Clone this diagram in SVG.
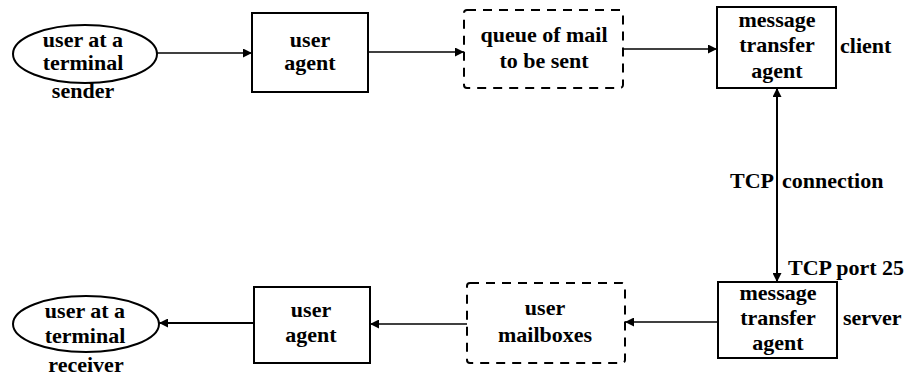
<svg xmlns="http://www.w3.org/2000/svg" width="909" height="376" viewBox="0 0 909 376">
<style>
text{font-family:'Liberation Serif','Times New Roman',Times,serif;font-size:22px;font-weight:700;fill:#000;text-anchor:middle}
text.l{text-anchor:start}
.box{fill:#fff;stroke:#000;stroke-width:2}
.dash{fill:#fff;stroke:#000;stroke-width:2;stroke-dasharray:9 7}
.c{fill:none;stroke:#000;stroke-width:1.6}
</style>
<defs>
<marker id="ah" viewBox="0 0 10 10" refX="10" refY="5" markerWidth="10" markerHeight="9" markerUnits="userSpaceOnUse" orient="auto-start-reverse">
<path d="M0,0 L10,5 L0,10 Z" fill="#000"/>
</marker>
</defs>
<rect width="909" height="376" fill="#fff"/>
<g id="connectors">
<line class="c" x1="157" y1="53" x2="252" y2="53" marker-end="url(#ah)"/>
<line class="c" x1="368" y1="52" x2="464" y2="52" marker-end="url(#ah)"/>
<line class="c" x1="623" y1="49" x2="717" y2="49" marker-end="url(#ah)"/>
<line class="c" x1="777" y1="88" x2="777" y2="282" style="stroke-width:2" marker-start="url(#ah)" marker-end="url(#ah)"/>
<line class="c" x1="718" y1="322" x2="625" y2="322" marker-end="url(#ah)"/>
<line class="c" x1="467" y1="324" x2="370" y2="324" marker-end="url(#ah)"/>
<line class="c" x1="254" y1="323" x2="159" y2="323" style="stroke-width:2" marker-end="url(#ah)"/>
</g>
<g id="sender">
<ellipse cx="85" cy="54" rx="72" ry="29" fill="#fff" stroke="#000" stroke-width="2"/>
<text x="83" y="47">user at a</text>
<text x="83" y="70">terminal</text>
<text x="83" y="98">sender</text>
</g>
<g id="user-agent-top">
<rect class="box" x="252" y="13" width="116" height="79"/>
<text x="310" y="47">user</text>
<text x="310" y="70">agent</text>
</g>
<g id="queue">
<rect class="dash" x="464" y="10" width="159" height="78" rx="3"/>
<text x="544" y="42">queue of mail</text>
<text x="544" y="68">to be sent</text>
</g>
<g id="mta-client">
<rect class="box" x="717" y="7" width="119" height="81"/>
<text x="777" y="27">message</text>
<text x="777" y="52">transfer</text>
<text x="777" y="78">agent</text>
<text class="l" x="840" y="53">client</text>
</g>
<g id="tcp-labels">
<text x="752" y="188">TCP</text>
<text class="l" x="782" y="188">connection</text>
<text class="l" x="788" y="275">TCP port 25</text>
</g>
<g id="mta-server">
<rect class="box" x="718" y="282" width="119" height="76"/>
<text x="778" y="300">message</text>
<text x="778" y="325">transfer</text>
<text x="778" y="350">agent</text>
<text class="l" x="843" y="325">server</text>
</g>
<g id="mailboxes">
<rect class="dash" x="467" y="283" width="158" height="80" rx="3"/>
<text x="545" y="315">user</text>
<text x="545" y="342">mailboxes</text>
</g>
<g id="user-agent-bottom">
<rect class="box" x="254" y="287" width="116" height="76"/>
<text x="311" y="317">user</text>
<text x="311" y="342">agent</text>
</g>
<g id="receiver">
<ellipse cx="86" cy="324" rx="73" ry="28" fill="#fff" stroke="#000" stroke-width="2"/>
<text x="85" y="318">user at a</text>
<text x="85" y="343">terminal</text>
<text x="86" y="372">receiver</text>
</g>
</svg>
